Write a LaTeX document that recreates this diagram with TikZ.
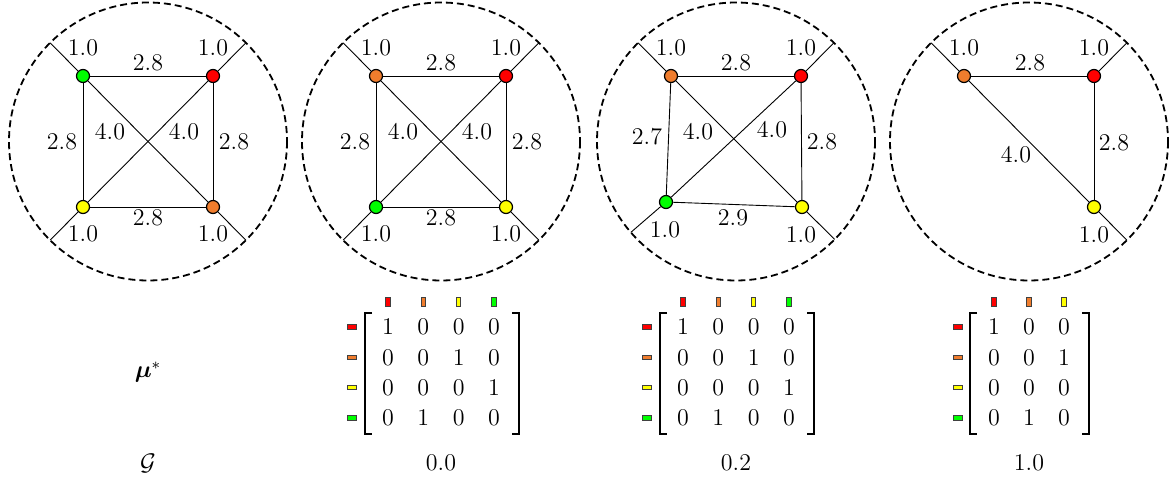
\documentclass[tikz,border=0pt]{standalone}
\usepackage{amsmath,bm}
\usetikzlibrary{calc}
\definecolor{cred}{RGB}{255,0,0}
\definecolor{corange}{RGB}{240,125,45}
\definecolor{cyellow}{RGB}{255,255,0}
\definecolor{cgreen}{RGB}{0,255,0}
\begin{document}
\begin{tikzpicture}[x=0.5pt,y=-0.5pt,
  lbl/.style={inner sep=0pt, font=\fontsize{12}{14}\selectfont},
  vtx/.style={circle, draw=black, line width=0.6pt, minimum size=6.5pt, inner sep=0pt},
  edge/.style={line width=0.45pt},
  ring/.style={draw, dash pattern=on 3.5pt off 2pt, line width=0.9pt},
  hmark/.style={draw=black!75, line width=0.4pt, minimum width=4.6pt, minimum height=2.2pt, inner sep=0pt},
  vmark/.style={draw=black!75, line width=0.4pt, minimum width=2.2pt, minimum height=4.6pt, inner sep=0pt},
  brk/.style={line width=0.9pt}
]
\useasboundingbox (0,0) rectangle (1175,481);

% ---------- circle 1 ----------
\coordinate (c1) at (148,141.5);
\draw[ring] (c1) circle[radius=139];
\node[vtx, fill=cgreen]  (a1) at (83,76) {};
\node[vtx, fill=cred]    (b1) at (213,76) {};
\node[vtx, fill=cyellow] (d1) at (83,207) {};
\node[vtx, fill=corange] (e1) at (213,207) {};
\draw[edge] (a1) -- (b1); \draw[edge] (d1) -- (e1);
\draw[edge] (a1) -- (d1); \draw[edge] (b1) -- (e1);
\draw[edge] (a1) -- (e1); \draw[edge] (d1) -- (b1);
\foreach \n in {a1,b1,d1,e1} \draw[edge] (\n) -- ($(c1)!69.5pt!(\n)$);
\node[lbl] (l1a) at (83,48) {1.0};
\node[lbl] (l1b) at (213,48) {1.0};
\node[lbl] (l1c) at (83,234) {1.0};
\node[lbl] (l1d) at (213,234) {1.0};
\node[lbl] (l1e) at (148,63) {2.8};
\node[lbl] (l1f) at (148,218) {2.8};
\node[lbl] (l1g) at (62,142) {2.8};
\node[lbl] (l1h) at (234,142) {2.8};
\node[lbl] (l1i) at (110,132) {4.0};
\node[lbl] (l1j) at (184,132) {4.0};

% ---------- circle 2 ----------
\coordinate (c2) at (441,141.5);
\draw[ring] (c2) circle[radius=139];
\node[vtx, fill=corange] (a2) at (376,76) {};
\node[vtx, fill=cred]    (b2) at (506,76) {};
\node[vtx, fill=cgreen]  (d2) at (376,207) {};
\node[vtx, fill=cyellow] (e2) at (506,207) {};
\draw[edge] (a2) -- (b2); \draw[edge] (d2) -- (e2);
\draw[edge] (a2) -- (d2); \draw[edge] (b2) -- (e2);
\draw[edge] (a2) -- (e2); \draw[edge] (d2) -- (b2);
\foreach \n in {a2,b2,d2,e2} \draw[edge] (\n) -- ($(c2)!69.5pt!(\n)$);
\node[lbl] (l2a) at (376,48) {1.0};
\node[lbl] (l2b) at (506,48) {1.0};
\node[lbl] (l2c) at (376,234) {1.0};
\node[lbl] (l2d) at (506,234) {1.0};
\node[lbl] (l2e) at (441,63) {2.8};
\node[lbl] (l2f) at (441,218) {2.8};
\node[lbl] (l2g) at (355,142) {2.8};
\node[lbl] (l2h) at (527,142) {2.8};
\node[lbl] (l2i) at (403,132) {4.0};
\node[lbl] (l2j) at (477,132) {4.0};

% ---------- circle 3 ----------
\coordinate (c3) at (736,141.5);
\draw[ring] (c3) circle[radius=139];
\node[vtx, fill=corange] (a3) at (671,76) {};
\node[vtx, fill=cred]    (b3) at (801,76) {};
\node[vtx, fill=cgreen]  (d3) at (666,202) {};
\node[vtx, fill=cyellow] (e3) at (802,207) {};
\draw[edge] (a3) -- (b3); \draw[edge] (d3) -- (e3);
\draw[edge] (a3) -- (d3); \draw[edge] (b3) -- (e3);
\draw[edge] (a3) -- (e3); \draw[edge] (d3) -- (b3);
\foreach \n in {a3,b3,d3,e3} \draw[edge] (\n) -- ($(c3)!69.5pt!(\n)$);
\node[lbl] (l3a) at (671,48) {1.0};
\node[lbl] (l3b) at (801,48) {1.0};
\node[lbl] (l3c) at (665,230) {1.0};
\node[lbl] (l3d) at (801,235) {1.0};
\node[lbl] (l3e) at (736,63) {2.8};
\node[lbl] (l3f) at (733,218) {2.9};
\node[lbl] (l3g) at (647,137) {2.7};
\node[lbl] (l3h) at (822,142) {2.8};
\node[lbl] (l3i) at (698,132) {4.0};
\node[lbl] (l3j) at (772,130) {4.0};

% ---------- circle 4 ----------
\coordinate (c4) at (1029,141.5);
\draw[ring] (c4) circle[radius=139];
\node[vtx, fill=corange] (a4) at (964,76) {};
\node[vtx, fill=cred]    (b4) at (1094,76) {};
\node[vtx, fill=cyellow] (e4) at (1094,207) {};
\draw[edge] (a4) -- (b4); \draw[edge] (b4) -- (e4); \draw[edge] (a4) -- (e4);
\foreach \n in {a4,b4,e4} \draw[edge] (\n) -- ($(c4)!69.5pt!(\n)$);
\node[lbl] (l4a) at (964,48) {1.0};
\node[lbl] (l4b) at (1094,48) {1.0};
\node[lbl] (l4d) at (1094,235) {1.0};
\node[lbl] (l4e) at (1030,63) {2.8};
\node[lbl] (l4h) at (1114,143) {2.8};
\node[lbl] (l4i) at (1016,155) {4.0};

% ---------- row labels ----------
\node[lbl] (mu) at (148,372) {$\bm{\mu}^*$};
\node[lbl] (G) at (148,463) {$\mathcal{G}$};
\node[lbl] (g1) at (441,463) {0.0};
\node[lbl] (g2) at (736,463) {0.2};
\node[lbl] (g3) at (1029,463) {1.0};

% ---------- matrix 1 ----------
\foreach \row [count=\r] in {{1,0,0,0},{0,0,1,0},{0,0,0,1},{0,1,0,0}} {
  \foreach \v [count=\c] in \row {
    \node[lbl] (ma-\r-\c) at ({388+35.33*(\c-1)},{327+30.33*(\r-1)}) {\v};
  }
}
\foreach \col [count=\i] in {cred,corange,cyellow,cgreen} {
  \node[vmark, fill=\col] (mat-\i) at ({388+35.33*(\i-1)},302) {};
  \node[hmark, fill=\col] (mal-\i) at (352,{327+30.33*(\i-1)}) {};
}
\draw[brk] (372,313) -- (365,313) -- (365,434) -- (372,434);
\draw[brk] (512,313) -- (519,313) -- (519,434) -- (512,434);

% ---------- matrix 2 ----------
\foreach \row [count=\r] in {{1,0,0,0},{0,0,1,0},{0,0,0,1},{0,1,0,0}} {
  \foreach \v [count=\c] in \row {
    \node[lbl] (mb-\r-\c) at ({683+35.33*(\c-1)},{327+30.33*(\r-1)}) {\v};
  }
}
\foreach \col [count=\i] in {cred,corange,cyellow,cgreen} {
  \node[vmark, fill=\col] (mbt-\i) at ({683+35.33*(\i-1)},302) {};
  \node[hmark, fill=\col] (mbl-\i) at (647,{327+30.33*(\i-1)}) {};
}
\draw[brk] (667,313) -- (660,313) -- (660,434) -- (667,434);
\draw[brk] (807,313) -- (814,313) -- (814,434) -- (807,434);

% ---------- matrix 3 ----------
\foreach \row [count=\r] in {{1,0,0},{0,0,1},{0,0,0},{0,1,0}} {
  \foreach \v [count=\c] in \row {
    \node[lbl] (mc-\r-\c) at ({994+35*(\c-1)},{327+30.33*(\r-1)}) {\v};
  }
}
\foreach \col [count=\i] in {cred,corange,cyellow} {
  \node[vmark, fill=\col] (mct-\i) at ({994+35*(\i-1)},302) {};
}
\foreach \col [count=\i] in {cred,corange,cyellow,cgreen} {
  \node[hmark, fill=\col] (mcl-\i) at (958,{327+30.33*(\i-1)}) {};
}
\draw[brk] (977,313) -- (970,313) -- (970,434) -- (977,434);
\draw[brk] (1082,313) -- (1089,313) -- (1089,434) -- (1082,434);
\end{tikzpicture}
\end{document}
